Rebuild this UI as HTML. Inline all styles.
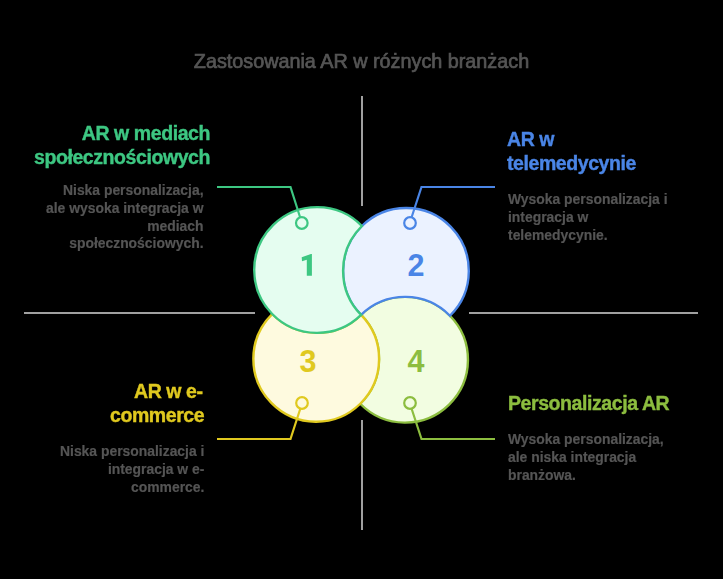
<!DOCTYPE html>
<html>
<head>
<meta charset="utf-8">
<style>
html,body{margin:0;padding:0;background:#000;}
body{width:723px;height:579px;position:relative;overflow:hidden;font-family:"Liberation Sans",sans-serif;}
svg{position:absolute;left:0;top:0;}
.t{position:absolute;white-space:nowrap;will-change:transform;}
.title{left:0;width:723px;text-align:center;top:50px;font-size:19.8px;line-height:22px;color:#555555;-webkit-text-stroke:0.7px #555555;}
.lab{font-weight:bold;font-size:19.5px;line-height:24px;letter-spacing:-0.42px;-webkit-text-stroke:0.4px currentColor;}
.desc{font-size:13.9px;font-weight:bold;line-height:17.8px;color:#555555;-webkit-text-stroke:0.2px #555555;}
.r{text-align:right;}
</style>
</head>
<body>
<svg width="723" height="579" viewBox="0 0 723 579">
  <g stroke="#a0a0a0" stroke-width="2" fill="none">
    <line x1="362" y1="96" x2="362" y2="206"/>
    <line x1="362" y1="420" x2="362" y2="530"/>
    <line x1="24" y1="313" x2="255" y2="313"/>
    <line x1="469" y1="313" x2="698" y2="313"/>
  </g>
  <g stroke-width="2.4" stroke-linejoin="miter" transform="rotate(0.55 361.08 314.88)">
    <path d="M361.08 314.88 A62.85 62.85 0 1 1 361.08 403.76 A62.85 62.85 0 0 0 361.08 314.88Z" fill="#f2fde1" stroke="#8cbd3f"/>
    <path d="M361.08 314.88 A62.85 62.85 0 1 1 272.20 314.88 A62.85 62.85 0 0 0 361.08 314.88Z" fill="#fefadf" stroke="#e0c91f"/>
    <path d="M361.08 314.88 A62.85 62.85 0 1 1 449.96 314.88 A62.85 62.85 0 0 0 361.08 314.88Z" fill="#ebf2ff" stroke="#4a85e6"/>
    <path d="M361.08 226.00 A62.85 62.85 0 1 0 361.08 314.88 A62.85 62.85 0 0 1 361.08 226.00Z" fill="#e5fdf0" stroke="#3dc782"/>
  </g>
  <g fill="none" stroke-width="2.2">
    <polyline points="217,187 290.5,187 300,217" stroke="#3dc782"/>
    <circle cx="301.8" cy="223" r="5.8" stroke="#3dc782"/>
    <polyline points="495,187 421.5,187 411.7,217" stroke="#4a85e6"/>
    <circle cx="410" cy="223" r="5.8" stroke="#4a85e6"/>
    <polyline points="217,439 290.5,439 300.2,409" stroke="#e0c91f"/>
    <circle cx="302" cy="403" r="5.8" stroke="#e0c91f"/>
    <polyline points="495,439 421.5,439 411.7,409" stroke="#8cbd3f"/>
    <circle cx="410" cy="403" r="5.8" stroke="#8cbd3f"/>
  </g>
  <path d="M311.9 254 L311.9 275.7 L306.8 275.7 L306.8 259.7 L302 261.3 L301.7 257.3 L310.9 254 Z" fill="#3dc782"/>
  <g font-family="Liberation Sans" font-weight="bold" font-size="30.5" text-anchor="middle">
    
    <text x="416" y="275.8" fill="#4a85e6">2</text>
    <text x="308" y="372" fill="#e0c91f">3</text>
    <text x="416" y="372" fill="#8cbd3f">4</text>
  </g>
</svg>

<div class="t title">Zastosowania AR w różnych branżach</div>

<div class="t lab r" style="right:513px;top:121.3px;color:#3dc782">AR w mediach<br>społecznościowych</div>
<div class="t desc r" style="right:519px;top:182px">Niska personalizacja,<br>ale wysoka integracja w<br>mediach<br>społecznościowych.</div>

<div class="t lab" style="left:507px;top:127.2px;color:#4a85e6">AR w<br>telemedycynie</div>
<div class="t desc" style="left:508px;top:191.3px">Wysoka personalizacja i<br>integracja w<br>telemedycynie.</div>

<div class="t lab r" style="right:519px;top:379.2px;color:#e0c91f"><span style="margin-right:1.6px">AR w e-</span><br>commerce</div>
<div class="t desc r" style="right:519px;top:443.2px">Niska personalizacja i<br>integracja w e-<br>commerce.</div>

<div class="t lab" style="left:508px;top:391.4px;color:#8cbd3f">Personalizacja AR</div>
<div class="t desc" style="left:508px;top:431.1px">Wysoka personalizacja,<br>ale niska integracja<br>branżowa.</div>
</body>
</html>
